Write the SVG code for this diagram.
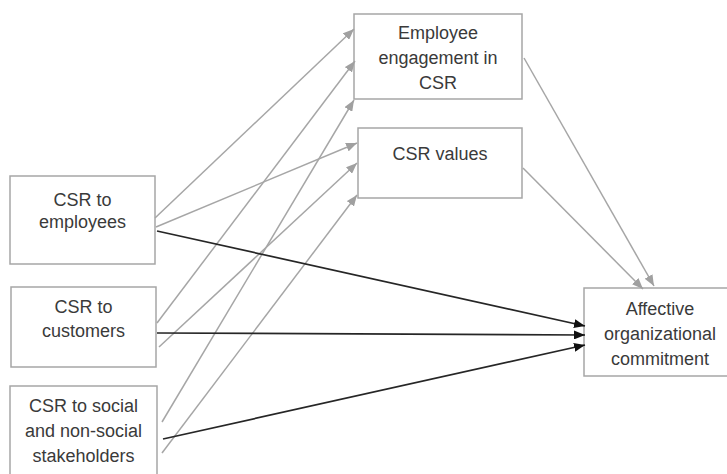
<svg xmlns="http://www.w3.org/2000/svg" width="727" height="474" viewBox="0 0 727 474">
<style>
.box{fill:#fff;stroke:#a6a6a6;stroke-width:1.5}
.t{font-family:"Liberation Sans",Arial,sans-serif;font-size:18px;fill:#3a3a3a;text-anchor:middle}
.g{stroke:#a6a6a6;stroke-width:1.5;fill:none;marker-end:url(#ag)}
.k{stroke:#262626;stroke-width:1.7;fill:none;marker-end:url(#ak)}
</style>
<defs>
<marker id="ag" markerUnits="userSpaceOnUse" markerWidth="11" markerHeight="9" refX="11" refY="4.5" orient="auto"><path d="M0,0 L11,4.5 L0,9 z" fill="#a0a0a0"/></marker>
<marker id="ak" markerUnits="userSpaceOnUse" markerWidth="11" markerHeight="9" refX="11" refY="4.5" orient="auto"><path d="M0,0 L11,4.5 L0,9 z" fill="#111"/></marker>
</defs>
<rect width="727" height="474" fill="#fff"/>
<g id="n-employees"><rect class="box" x="10" y="176" width="145" height="88"/><text class="t" x="82.5" y="206">CSR to</text><text class="t" x="82.5" y="228">employees</text></g>
<g id="n-customers"><rect class="box" x="11" y="287" width="145" height="80"/><text class="t" x="83.5" y="313">CSR to</text><text class="t" x="83.5" y="337">customers</text></g>
<g id="n-social"><rect class="box" x="10" y="386" width="147" height="100"/><text class="t" x="83.5" y="412">CSR to social</text><text class="t" x="83.5" y="437">and non-social</text><text class="t" x="83.5" y="462">stakeholders</text></g>
<g id="n-engagement"><rect class="box" x="354" y="14" width="168" height="85"/><text class="t" x="438" y="39">Employee</text><text class="t" x="438" y="64">engagement in</text><text class="t" x="438" y="89">CSR</text></g>
<g id="n-values"><rect class="box" x="358" y="128" width="164" height="70"/><text class="t" x="440" y="160">CSR values</text></g>
<g id="n-affective"><rect class="box" x="584" y="288" width="152" height="88"/><text class="t" x="660" y="315">Affective</text><text class="t" x="660" y="340">organizational</text><text class="t" x="660" y="365">commitment</text></g>
<g id="connectors">
<line class="g" x1="155" y1="218" x2="354" y2="29"/>
<line class="g" x1="156" y1="227" x2="357" y2="143"/>
<line class="g" x1="157" y1="323" x2="355" y2="61"/>
<line class="g" x1="159" y1="347" x2="357" y2="163"/>
<line class="g" x1="162" y1="422" x2="354" y2="100"/>
<line class="g" x1="162" y1="453" x2="357" y2="195"/>
<line class="g" x1="524" y1="58" x2="654" y2="286"/>
<line class="g" x1="523" y1="168" x2="643" y2="289"/>
<line class="k" x1="157" y1="231" x2="585" y2="326"/>
<line class="k" x1="157" y1="333" x2="585" y2="335"/>
<line class="k" x1="163" y1="439" x2="585" y2="345"/>
</g>
</svg>
